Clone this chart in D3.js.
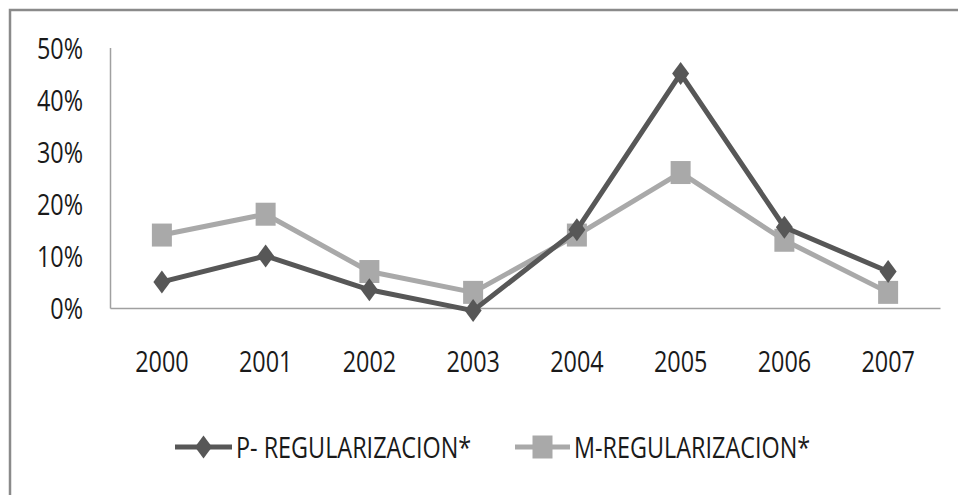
<!DOCTYPE html>
<html>
<head>
<meta charset="utf-8">
<script src="https://cdn.jsdelivr.net/npm/d3@7"></script>
<style>
  html, body { margin: 0; padding: 0; background: #fff; }
  svg { display: block; }
  text { font-family: "Open Sans", "Liberation Sans", sans-serif; fill: #1a1a1a; }
</style>
</head>
<body>
<svg id="chart" width="958" height="495"></svg>
<script>
const years = ["2000", "2001", "2002", "2003", "2004", "2005", "2006", "2007"];
const pReg = [5, 10, 3.5, -0.5, 15, 45, 15.5, 7];
const mReg = [14, 18, 7, 3, 14, 26, 13, 3];
const yTicks = [0, 10, 20, 30, 40, 50];
const seriesNames = ["P- REGULARIZACION*", "M-REGULARIZACION*"];

const W = 958, H = 495;
const margin = { left: 110, right: 18, top: 47.5, bottom: 187 };
const FS = 30, SX = 0.78;

const svg = d3.select("#chart");

// outer frame
svg.append("rect")
  .attr("x", 10).attr("y", 10)
  .attr("width", W + 20).attr("height", H + 20)
  .attr("fill", "none").attr("stroke", "#8a8a8a").attr("stroke-width", 2.5);

const x = d3.scaleBand().domain(years).range([margin.left, W - margin.right]);
const y = d3.scaleLinear().domain([0, 50]).range([H - margin.bottom, margin.top]);

// y axis
const yAxis = svg.append("g")
  .attr("transform", `translate(${margin.left},0)`)
  .call(d3.axisLeft(y).tickValues(yTicks).tickSize(0).tickPadding(0).tickFormat(d => d + "%"));
yAxis.select(".domain").attr("stroke", "#a0a0a0").attr("stroke-width", 1.5);
yAxis.selectAll("text")
  .attr("x", null).attr("dy", "0.36em")
  .style("font-size", FS + "px")
  .attr("text-anchor", "end")
  .attr("transform", `translate(-27,0) scale(${SX},1)`);

// x axis
const xAxis = svg.append("g")
  .attr("transform", `translate(0,${y(0)})`)
  .call(d3.axisBottom(x).tickSize(0).tickPadding(0));
xAxis.select(".domain").attr("stroke", "#a0a0a0").attr("stroke-width", 1.5);
xAxis.selectAll("text")
  .attr("y", null).attr("dy", null)
  .style("font-size", FS + "px")
  .attr("transform", `translate(0,63.5) scale(${SX},1)`);

const cx = d => x(d) + x.bandwidth() / 2;

const diamondPath = (w, h) => `M0,${-h/2}L${w/2},0L0,${h/2}L${-w/2},0Z`;
const squarePath = (w, h) => `M${-w/2},${-h/2}H${w/2}V${h/2}H${-w/2}Z`;

const series = [
  { name: seriesNames[0], values: pReg, color: "#575757", marker: diamondPath(17, 23) },
  { name: seriesNames[1], values: mReg, color: "#a9a9a9", marker: squarePath(20, 23) }
];

const line = d3.line().x((d, i) => cx(years[i])).y(d => y(d));

// draw M first (behind), then P? In reference P line is on top at crossings
const order = [series[1], series[0]];
order.forEach(s => {
  const g = svg.append("g");
  g.append("path").datum(s.values)
    .attr("d", line).attr("fill", "none")
    .attr("stroke", s.color).attr("stroke-width", 5)
    .attr("stroke-linejoin", "round");
  g.selectAll("path.m").data(s.values).enter().append("path")
    .attr("class", "m")
    .attr("d", s.marker)
    .attr("transform", (d, i) => `translate(${cx(years[i])},${y(d)})`)
    .attr("fill", s.color);
});

// legend
const legendItems = [
  { s: series[0], x0: 175, x1: 232, tx: 236 },
  { s: series[1], x0: 515, x1: 570, tx: 574 }
];
const ly = 447, lb = 458;
legendItems.forEach(it => {
  const g = svg.append("g");
  g.append("line").attr("x1", it.x0).attr("x2", it.x1).attr("y1", ly).attr("y2", ly)
    .attr("stroke", it.s.color).attr("stroke-width", 5);
  g.append("path").attr("d", it.s.marker)
    .attr("transform", `translate(${(it.x0 + it.x1) / 2},${ly})`)
    .attr("fill", it.s.color);
  g.append("text").text(it.s.name)
    .attr("transform", `translate(${it.tx},${lb}) scale(${SX},1)`)
    .style("font-size", FS + "px");
});
</script>
</body>
</html>
